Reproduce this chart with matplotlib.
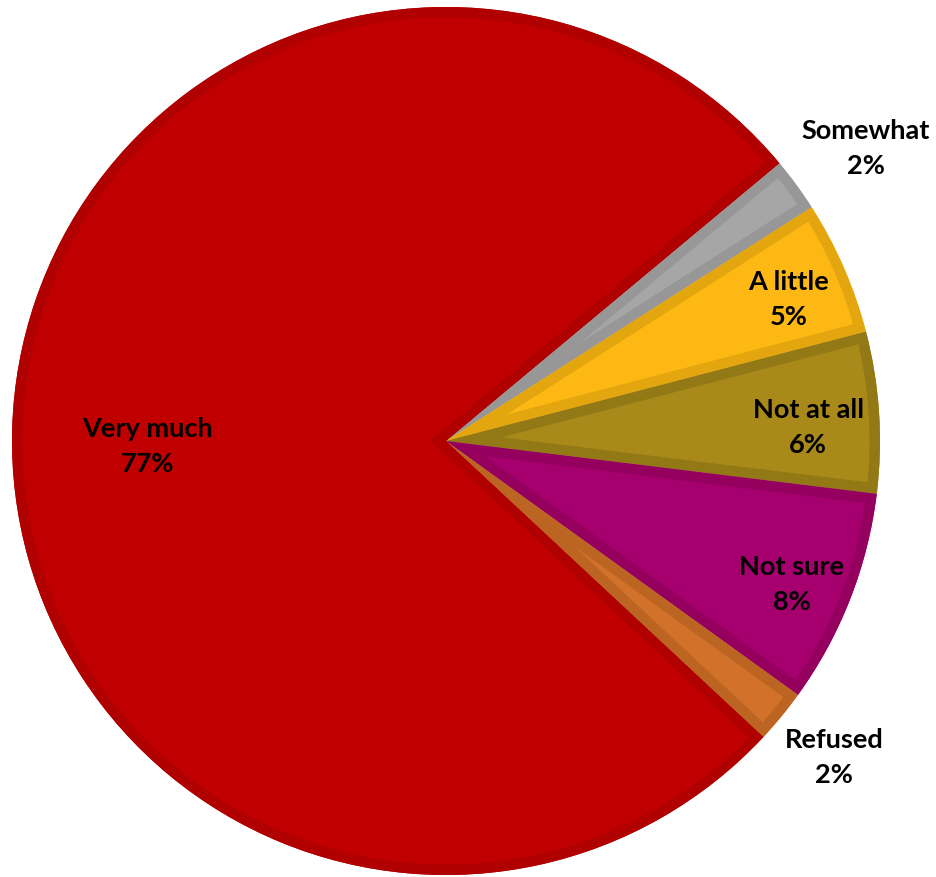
import matplotlib
matplotlib.use("Agg")
import matplotlib.pyplot as plt
import numpy as np
from matplotlib.patches import Wedge

categories = ["Somewhat", "A little", "Not at all", "Not sure", "Refused", "Very much"]
values = [2, 5, 6, 8, 2, 77]
fill_colors = ["#A6A6A6", "#FDB813", "#A8891A", "#A5006E", "#D2722A", "#C00000"]
edge_colors = ["#979797", "#E4A60F", "#937816", "#95005F", "#BC6522", "#B00000"]

# label placement (style): radial distance and angular nudge (degrees)
label_dist = [1.18, 0.856, 0.835, 0.862, 1.152, 0.689]
label_nudge = [-1.3, -1.0, -1.5, -1.0, 0.3, 2.5]

plt.rcParams['font.family'] = ['Lato', 'DejaVu Sans']

fig = plt.figure(figsize=(9.36, 8.78), dpi=100)
ax = fig.add_axes([12/936, 1 - 876/878, 868/936, 868/878])

wedges, _ = ax.pie(values, colors=fill_colors, startangle=39.8, counterclock=False,
                   radius=1.0, wedgeprops=dict(linewidth=0))
ax.set_xlim(-1, 1)
ax.set_ylim(-1, 1)
ax.set_aspect("equal")
ax.axis("off")

for w, ec in zip(wedges, edge_colors):
    border = Wedge(w.center, w.r, w.theta1, w.theta2, facecolor="none",
                   edgecolor=ec, linewidth=15, joinstyle="miter")
    ax.add_patch(border)
    border.set_clip_path(w.get_path(), w.get_transform())

for w, cat, v, d, nd in zip(wedges, categories, values, label_dist, label_nudge):
    ang = np.deg2rad((w.theta1 + w.theta2) / 2 + nd)
    x, y = d * np.cos(ang), d * np.sin(ang)
    ax.text(x, y, f"{cat}\n{v}%", ha="center", va="center", fontsize=19.5,
            fontweight="bold", color="black", linespacing=1.55, zorder=5)

fig.savefig("out.png", dpi=100)
